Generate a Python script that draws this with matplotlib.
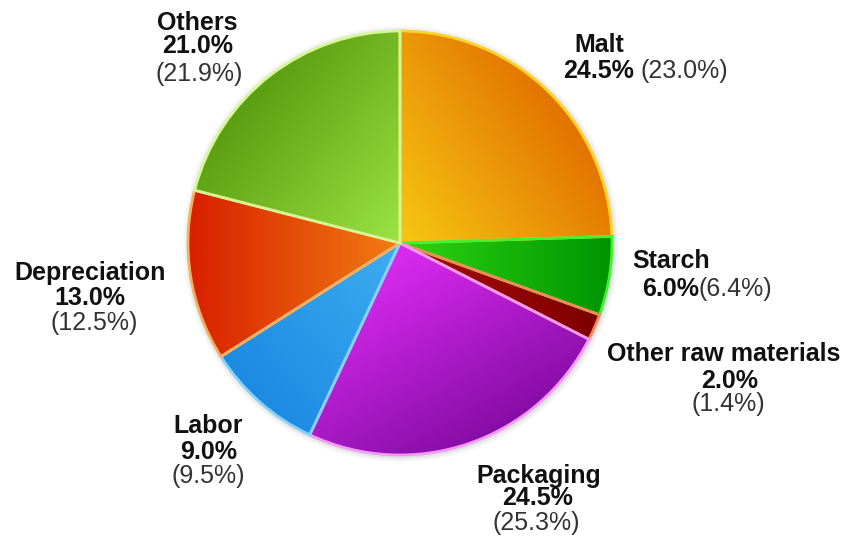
import numpy as np
import matplotlib
matplotlib.use("Agg")
import matplotlib.pyplot as plt
from matplotlib.colors import to_rgb
from matplotlib.patches import Circle

# ---- data ----
categories = ["Malt", "Starch", "Other raw materials", "Packaging", "Labor", "Depreciation", "Others"]
shares = [24.5, 6.0, 2.0, 24.5, 9.0, 13.0, 21.0]
prev_shares = ["(23.0%)", "(6.4%)", "(1.4%)", "(25.3%)", "(9.5%)", "(12.5%)", "(21.9%)"]

# ---- styles ----
grad_start = ["#f6c812", "#2fd412", "#a80a00", "#dc2cf2", "#1c8ae2", "#d81e00", "#5a9c10"]
grad_end = ["#e27000", "#009400", "#7e0000", "#840ca4", "#3eaef2", "#f27c12", "#9ae444"]
grad_dir = [35, 0, 0, -60, 40, 0, -40]  # degrees, direction from start colour to end colour
edge_cols = ["#f8d428", "#44f030", "#f08a5a", "#f29af6", "#86d2ff", "#f6b060", "#d6f894"]

W, H = 846, 536
fig = plt.figure(figsize=(W / 100, H / 100), dpi=100)
ax = fig.add_axes([0, 0, 1, 1])

cx, cy, R = 400, H - 243, 212

# soft shadow
for k, a in zip([6, 4, 2], [0.05, 0.07, 0.10]):
    ax.add_patch(Circle((cx + 1, cy - 1), R + k, facecolor="#777777", edgecolor="none", alpha=a, zorder=1))

wedges, _ = ax.pie(shares, startangle=90, counterclock=False, center=(cx, cy), radius=R,
                   frame=True, wedgeprops=dict(linewidth=2.0))
ax.set_xlim(0, W)
ax.set_ylim(0, H)
ax.set_aspect("equal")
ax.axis("off")

n = 400
xs = np.linspace(cx - R, cx + R, n)
ys = np.linspace(cy - R, cy + R, n)
X, Y = np.meshgrid(xs, ys)
for w, c0, c1, ang, ec in zip(wedges, grad_start, grad_end, grad_dir, edge_cols):
    d = np.deg2rad(ang)
    dx, dy = np.cos(d), np.sin(d)
    proj = (X - cx) * dx + (Y - cy) * dy
    verts = w.get_path().vertices
    pv = (verts[:, 0] - cx) * dx + (verts[:, 1] - cy) * dy
    tt = np.clip((proj - pv.min()) / max(pv.max() - pv.min(), 1e-6), 0, 1)[..., None]
    img = (1 - tt) * np.array(to_rgb(c0)) + tt * np.array(to_rgb(c1))
    im = ax.imshow(img, extent=[cx - R, cx + R, cy - R, cy + R], origin="lower",
                   interpolation="bilinear", zorder=2)
    im.set_clip_path(w)
    w.set_facecolor("none")
    w.set_edgecolor(ec)
    w.set_zorder(3)

FS = 18
FAM = ["Liberation Sans", "DejaVu Sans"]
BOLD_C = "#111111"
NORM_C = "#333333"


def t(x, y, s, bold=True, ha="center"):
    ax.text(x, H - y, s, ha=ha, va="baseline", fontsize=FS, family=FAM,
            fontweight="bold" if bold else "normal", color=BOLD_C if bold else NORM_C, zorder=5)


pct = [f"{v:.1f}%" for v in shares]

# Malt
t(599, 52, categories[0])
t(634, 78, pct[0], ha="right")
t(641, 78, prev_shares[0], bold=False, ha="left")
# Starch
t(671, 268, categories[1])
t(699, 296, pct[1], ha="right")
t(699, 296, prev_shares[1], bold=False, ha="left")
# Other raw materials
t(724, 361, categories[2])
t(730, 388, pct[2])
t(728, 411, prev_shares[2], bold=False)
# Packaging
t(539, 483, categories[3])
t(538, 505, pct[3])
t(536, 530, prev_shares[3], bold=False)
# Labor
t(208, 433, categories[4])
t(209, 459, pct[4])
t(208, 483, prev_shares[4], bold=False)
# Depreciation
t(90, 280, categories[5])
t(90, 305, pct[5])
t(94, 330, prev_shares[5], bold=False)
# Others
t(197, 30, categories[6])
t(198, 53, pct[6])
t(199, 81, prev_shares[6], bold=False)

fig.savefig("out.png", dpi=100, facecolor="white")
